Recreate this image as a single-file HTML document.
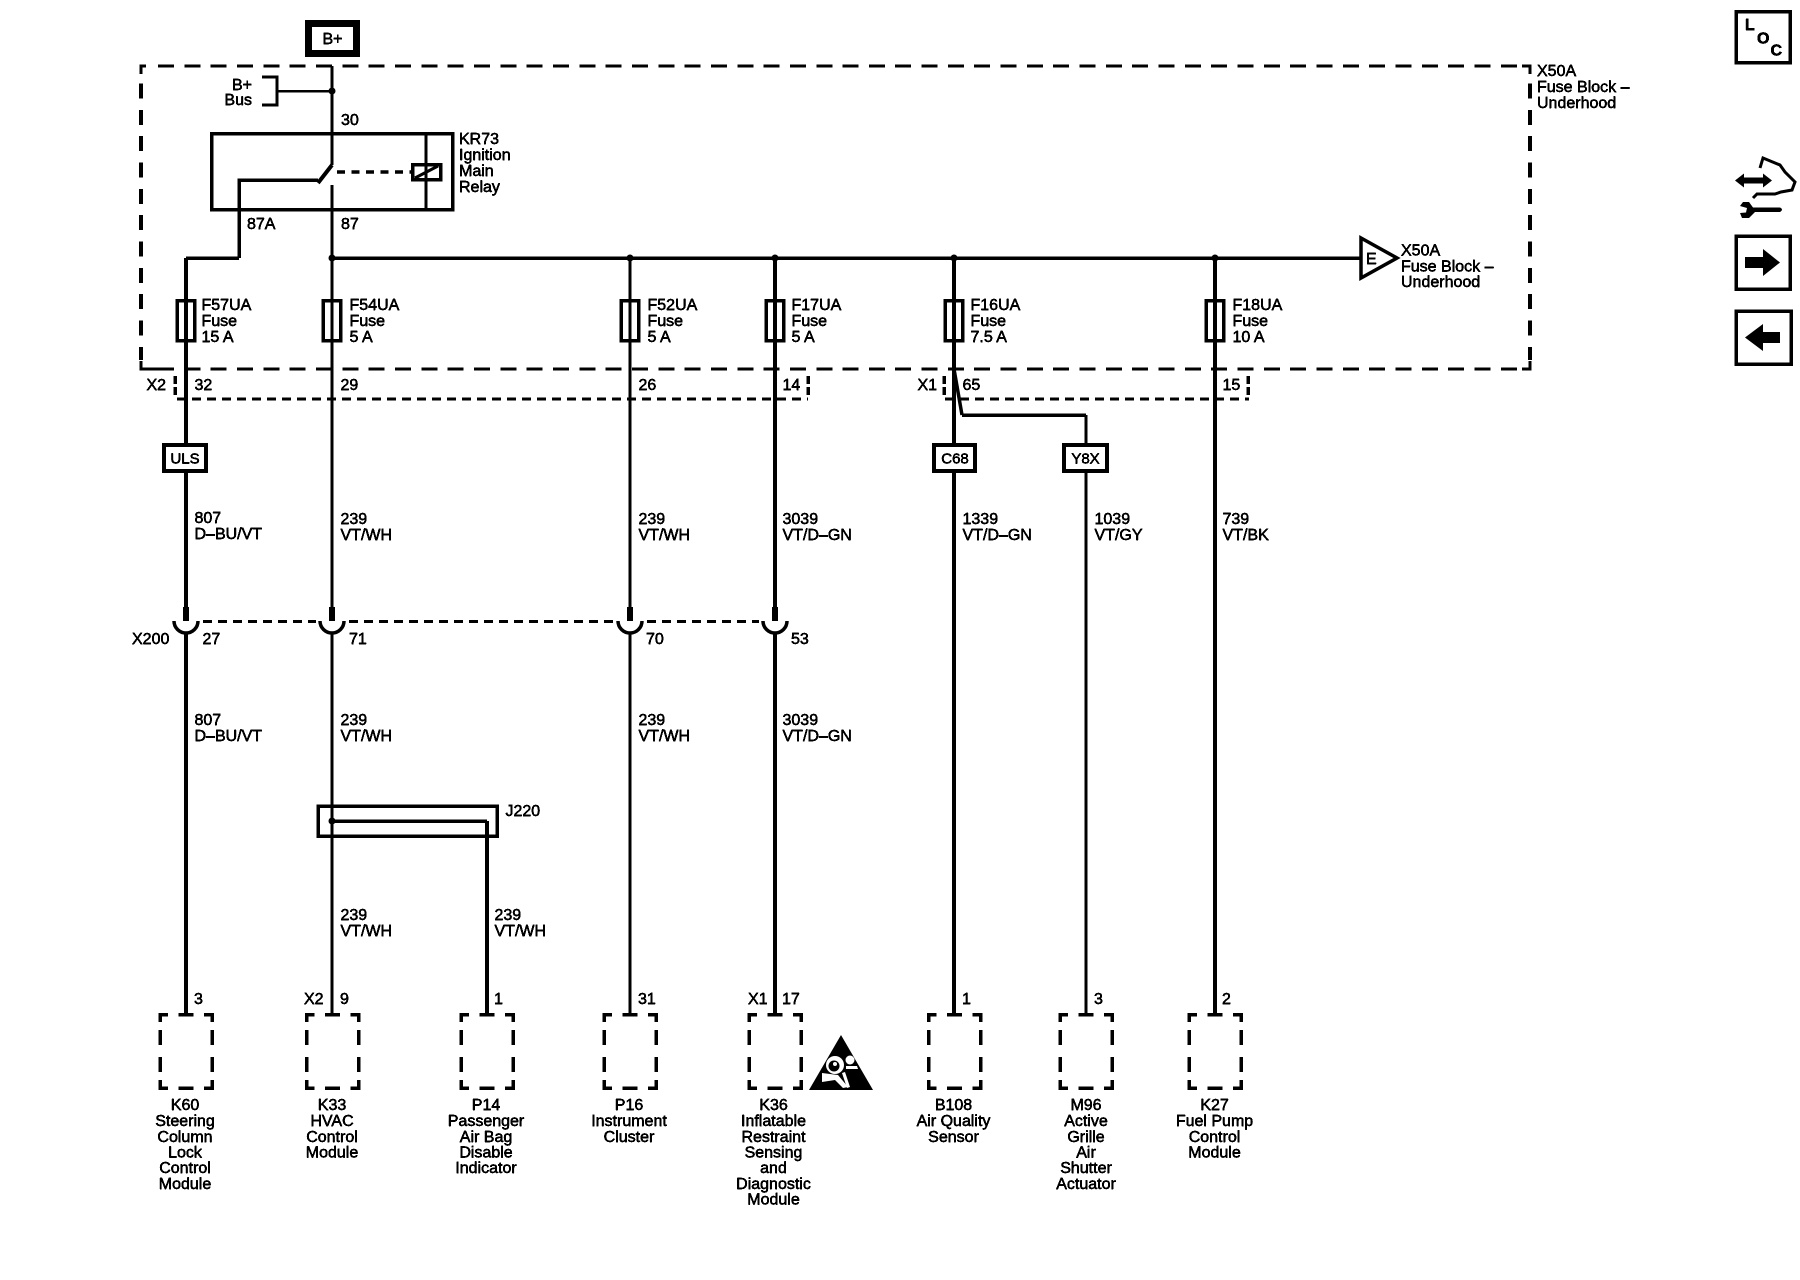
<!DOCTYPE html>
<html><head><meta charset="utf-8"><title>Wiring diagram</title>
<style>
html,body{margin:0;padding:0;background:#fff}
svg{display:block}
text{font-family:"Liberation Sans",Arial,sans-serif;font-size:16px;fill:#000;stroke:#000;stroke-width:.45px}
.c{text-anchor:middle}.e{text-anchor:end}
</style></head><body>
<svg xmlns="http://www.w3.org/2000/svg" width="1800" height="1280" viewBox="0 0 1800 1280">
<defs>
<filter id="h" filterUnits="userSpaceOnUse" x="0" y="0" width="1800" height="1280"><feComponentTransfer><feFuncA type="linear" slope="3" intercept="-0.5"/></feComponentTransfer></filter>
<g id="m" fill="none" stroke="#000" stroke-width="3.5" shape-rendering="crispEdges">
<path d="M-26 1022V1014.5H-18M-7.5 1014.5H7.5M18 1014.5H26V1022M-26 1030V1045M26 1030V1045M-26 1057V1072M26 1057V1072M-26 1080V1088H-18M-7.5 1088H7.5M18 1088H26V1080"/>
</g>
<g id="cup"><path d="M-12 621A12 12 0 0 0 12 621" fill="none" stroke="#000" stroke-width="3.500"/><rect x="-3" y="607" width="6" height="14"/></g>
</defs>
<rect width="1800" height="1280" fill="#fff"/>

<!-- frame -->
<g fill="none" stroke="#000" shape-rendering="crispEdges">
<path stroke-width="3" stroke-dasharray="16 10.33" d="M158 66H1525M158 369H1525"/>
<path stroke-width="4" stroke-dasharray="15 11.33" d="M141 83.500V360M1530 83.500V360"/>
<path stroke-width="3" d="M141 74V66H146M1522 66H1530V74M141 361V369H174M1522 369H1530V361"/>
<!-- connectors -->
<path stroke-width="3" stroke-dasharray="9 6" d="M177 399H808M945 399H1249"/>
<path stroke-width="3" stroke-dasharray="9 6" d="M203 621.500H316M349 621.500H614M647 621.500H759"/>
<path stroke-width="3.500" stroke-dasharray="8 3" d="M175 376V395M808 376V395M944 376V395M1248 376V395"/>
</g>

<!-- wires -->
<g fill="none" stroke="#000" shape-rendering="crispEdges">
<path stroke-width="3" d="M332 66V165M332 185V620M332 632V1013"/>
<path stroke-width="2.500" d="M277 91H332"/>
<path stroke-width="3" d="M262 77H277V105H262"/>
<rect x="211.500" y="133.500" width="241" height="76" stroke-width="3.500"/>
<path stroke-width="3" d="M426 133V210"/>
<rect x="412.500" y="164.500" width="28" height="15" stroke-width="3.500"/>
<path stroke-width="3.500" d="M239 258V180H318M186 258H239M332 258H1361"/>
<path stroke-width="4" d="M186 258V621M186 632V1013M775 258V621M775 632V1013M954 258V1013M1215 258V1013M487 821V1013"/>
<path stroke-width="3" d="M630 258V621M630 632V1013M1086 415V1013"/>
<path stroke-width="3.500" d="M962 415H1086"/>
<rect x="318" y="806" width="179" height="30" stroke-width="3.500"/>
<path stroke-width="3.500" d="M332 821H487"/>
<!-- fuses -->
<g stroke-width="3.500">
<rect x="177" y="300.500" width="17.500" height="40"/>
<rect x="323" y="300.500" width="17.500" height="40"/>
<rect x="621" y="300.500" width="17.500" height="40"/>
<rect x="766" y="300.500" width="17.500" height="40"/>
<rect x="945" y="300.500" width="17.500" height="40"/>
<rect x="1206" y="300.500" width="17.500" height="40"/>
</g>
<!-- option boxes -->
<g stroke-width="4" fill="#fff">
<rect x="164" y="445" width="42" height="26"/>
<rect x="934" y="445" width="41" height="26"/>
<rect x="1064" y="445" width="43" height="26"/>
</g>
<rect x="308.500" y="23.500" width="48" height="30" stroke-width="7"/>
</g>
<g fill="none" stroke="#000">
<path stroke-width="4" d="M332 165L318 183"/>
<path stroke-width="3.500" stroke-dasharray="8 6.500" d="M337 172H411"/>
<path stroke-width="3" d="M415 178L438 166"/>
<path stroke-width="3.500" d="M954 369L962 415"/>
<path stroke-width="3.500" stroke-linejoin="miter" d="M1361 238L1397 258L1361 278Z"/>
</g>
<g>
<circle cx="332" cy="91" r="3.500"/><circle cx="332" cy="258" r="3.500"/><circle cx="630" cy="258" r="3.500"/><circle cx="775" cy="258" r="3.500"/><circle cx="954" cy="258" r="3.500"/><circle cx="1215" cy="258" r="3.500"/><circle cx="332" cy="821" r="3.500"/>
<use href="#cup" x="186"/><use href="#cup" x="332"/><use href="#cup" x="630"/><use href="#cup" x="775"/>
<use href="#m" x="186"/><use href="#m" x="332.500"/><use href="#m" x="487"/><use href="#m" x="630"/><use href="#m" x="775"/><use href="#m" x="954.500"/><use href="#m" x="1086"/><use href="#m" x="1215"/>
</g>

<!-- airbag triangle -->
<path d="M841 1035L873 1090H809Z"/>
<circle cx="835" cy="1065" r="9" fill="#fff"/><circle cx="834" cy="1066" r="5.500"/><circle cx="835" cy="1064" r="2" fill="#fff"/><circle cx="850" cy="1060" r="4.500" fill="#fff"/>
<path d="M822 1073L838 1075L848 1087L843 1088L835 1080L822 1082Z" fill="#fff"/>
<path d="M842 1073L845 1072L850 1087L847 1088Z" fill="#fff"/>
<path d="M846 1066L857 1066L858 1069L846 1069Z" fill="#fff"/>

<!-- right icons -->
<g fill="none" stroke="#000" stroke-width="3.500" shape-rendering="crispEdges">
<rect x="1736" y="11.500" width="54" height="51"/>
<rect x="1736" y="236" width="54" height="53"/>
<rect x="1736" y="311" width="55" height="53"/>
</g>
<path d="M1745 257H1763V249L1780 262.500L1763 276V268H1745Z"/>
<path d="M1780 332H1763V324L1745 337.500L1763 351V343H1780Z"/>
<path d="M1735 180.500L1744 173.500V177.500H1763V173.500L1772 180.500L1763 187.500V183.500H1744V187.500Z"/>
<path d="M1753 198L1757 194H1775L1781 192L1792 190L1795 182L1785 172L1780 165L1763 158L1760 168" fill="none" stroke="#000" stroke-width="3"/>
<path d="M1753 207.500H1780Q1784 209.500 1780 212H1755L1749 218H1742L1740 213L1746 212.500L1747 208L1740 206L1743 202H1749Z"/>

<!-- text -->
<g filter="url(#h)">
<text x="322.500" y="44">B+</text>
<text x="252" y="90" class="e">B+</text><text x="252" y="105" class="e">Bus</text>
<text x="341" y="125">30</text>
<g transform="translate(-1,0)">
<text x="460" y="144">KR73</text><text x="460" y="160">Ignition</text><text x="460" y="176">Main</text><text x="460" y="192">Relay</text>
</g>
<text x="247" y="229">87A</text><text x="341" y="229">87</text>
<text x="1537" y="76">X50A</text><text x="1537" y="92">Fuse Block –</text><text x="1537" y="108">Underhood</text>
<text x="1401" y="255.500">X50A</text><text x="1401" y="271.500">Fuse Block –</text><text x="1401" y="287">Underhood</text>
<text x="1366" y="264">E</text>

<g transform="translate(-.5,-1)">
<text x="202" y="311">F57UA</text><text x="202" y="327">Fuse</text><text x="202" y="343">15 A</text>
<text x="350" y="311">F54UA</text><text x="350" y="327">Fuse</text><text x="350" y="343">5 A</text>
<text x="648" y="311">F52UA</text><text x="648" y="327">Fuse</text><text x="648" y="343">5 A</text>
<text x="792" y="311">F17UA</text><text x="792" y="327">Fuse</text><text x="792" y="343">5 A</text>
<text x="971" y="311">F16UA</text><text x="971" y="327">Fuse</text><text x="971" y="343">7.5 A</text>
<text x="1233" y="311">F18UA</text><text x="1233" y="327">Fuse</text><text x="1233" y="343">10 A</text>
</g>

<g transform="translate(-.5,0)">
<text x="147" y="390">X2</text><text x="195" y="390">32</text><text x="341" y="390">29</text><text x="639" y="390">26</text><text x="783" y="390">14</text><text x="918" y="390">X1</text><text x="963" y="390">65</text><text x="1223" y="390">15</text>
</g>

<text x="185" y="463.500" class="c" style="font-size:15px">ULS</text>
<text x="955" y="463.500" class="c" style="font-size:15px">C68</text>
<text x="1085.500" y="463.500" class="c" style="font-size:15px">Y8X</text>

<g transform="translate(-.5,-1)">
<text x="195" y="524">807</text><text x="195" y="540">D–BU/VT</text>
<text x="341" y="525">239</text><text x="341" y="541">VT/WH</text>
<text x="639" y="525">239</text><text x="639" y="541">VT/WH</text>
<text x="783" y="525">3039</text><text x="783" y="541">VT/D–GN</text>
<text x="963" y="525">1339</text><text x="963" y="541">VT/D–GN</text>
<text x="1095" y="525">1039</text><text x="1095" y="541">VT/GY</text>
<text x="1223" y="525">739</text><text x="1223" y="541">VT/BK</text>
</g>

<text x="132" y="644">X200</text><text x="202.500" y="644">27</text><text x="349" y="644">71</text><text x="646" y="644">70</text><text x="791" y="644">53</text>

<g transform="translate(-.5,-1)">
<text x="195" y="726">807</text><text x="195" y="742">D–BU/VT</text>
<text x="341" y="726">239</text><text x="341" y="742">VT/WH</text>
<text x="639" y="726">239</text><text x="639" y="742">VT/WH</text>
<text x="783" y="726">3039</text><text x="783" y="742">VT/D–GN</text>
<text x="506" y="817">J220</text>
<text x="341" y="921">239</text><text x="341" y="937">VT/WH</text>
<text x="495" y="921">239</text><text x="495" y="937">VT/WH</text>
</g>

<g transform="translate(-1,-2)">
<text x="195" y="1006">3</text><text x="305" y="1006">X2</text><text x="341" y="1006">9</text><text x="495" y="1006">1</text><text x="639" y="1006">31</text><text x="749" y="1006">X1</text><text x="783" y="1006">17</text><text x="963" y="1006">1</text><text x="1095" y="1006">3</text><text x="1223" y="1006">2</text>
</g>

<g class="c" text-anchor="middle" transform="translate(0,-1)">
<text x="185" y="1111">K60</text><text x="185" y="1127">Steering</text><text x="185" y="1143">Column</text><text x="185" y="1158.500">Lock</text><text x="185" y="1174">Control</text><text x="185" y="1190">Module</text>
<text x="332" y="1111">K33</text><text x="332" y="1127">HVAC</text><text x="332" y="1143">Control</text><text x="332" y="1158.500">Module</text>
<text x="486" y="1111">P14</text><text x="486" y="1127">Passenger</text><text x="486" y="1143">Air Bag</text><text x="486" y="1158.500">Disable</text><text x="486" y="1174">Indicator</text>
<text x="629" y="1111">P16</text><text x="629" y="1127">Instrument</text><text x="629" y="1143">Cluster</text>
<text x="773.500" y="1111">K36</text><text x="773.500" y="1127">Inflatable</text><text x="773.500" y="1143">Restraint</text><text x="773.500" y="1158.500">Sensing</text><text x="773.500" y="1174">and</text><text x="773.500" y="1190">Diagnostic</text><text x="773.500" y="1205.500">Module</text>
<text x="953.500" y="1111">B108</text><text x="953.500" y="1127">Air Quality</text><text x="953.500" y="1143">Sensor</text>
<text x="1086" y="1111">M96</text><text x="1086" y="1127">Active</text><text x="1086" y="1143">Grille</text><text x="1086" y="1158.500">Air</text><text x="1086" y="1174">Shutter</text><text x="1086" y="1190">Actuator</text>
<text x="1214.500" y="1111">K27</text><text x="1214.500" y="1127">Fuel Pump</text><text x="1214.500" y="1143">Control</text><text x="1214.500" y="1158.500">Module</text>
</g>

<g font-weight="bold">
<text x="1745" y="30">L</text><text x="1757" y="43.500">O</text><text x="1770.500" y="55.500">C</text>
</g>
</g>
</svg>
</body></html>
